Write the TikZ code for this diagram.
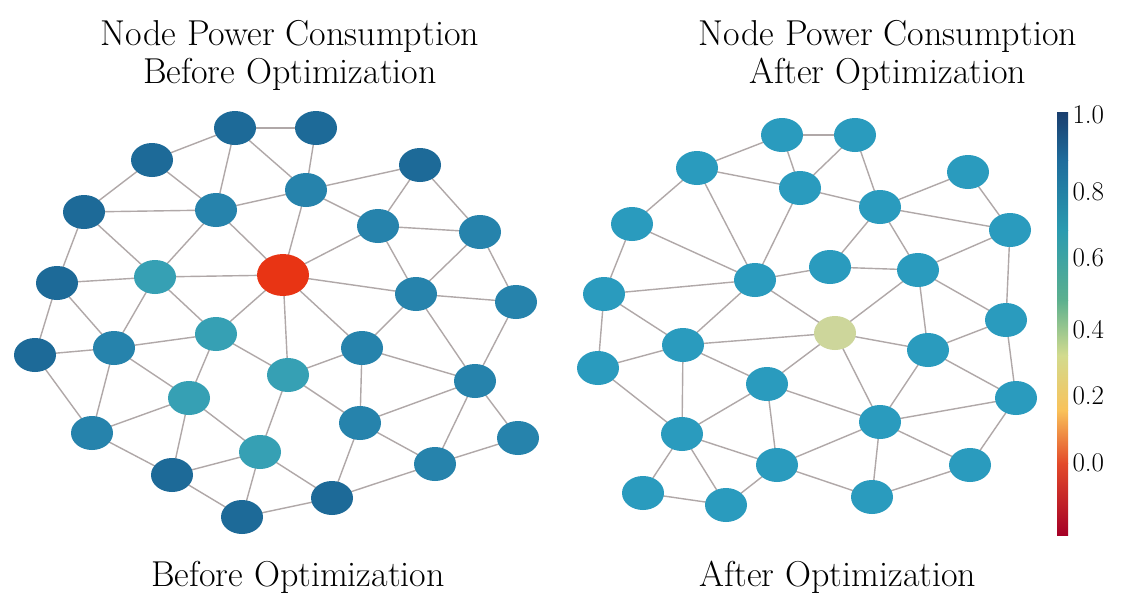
\documentclass[tikz,border=0pt]{standalone}
\usetikzlibrary{shapes.geometric}
\pgfdeclarelayer{bg}
\pgfsetlayers{bg,main}
\begin{document}
\begin{tikzpicture}[x=1pt,y=-1pt,
  nd/.style={ellipse,minimum width=42pt,minimum height=34pt,inner sep=0pt,draw=none},
  ttl/.style={font=\fontsize{36}{38}\selectfont,align=center},
  cb/.style={font=\fontsize{27}{29}\selectfont,anchor=west}]
\definecolor{dk}{HTML}{1D6A98}
\definecolor{md}{HTML}{2683AC}
\definecolor{lt}{HTML}{36A0B4}
\definecolor{rt}{HTML}{2A9BBE}
\definecolor{eg}{HTML}{B0A8A8}
\definecolor{red1}{HTML}{E83414}
\definecolor{ylw}{HTML}{CDD69B}
\tikzset{ed/.style={draw=eg,line width=1.4pt}}
\useasboundingbox (0,0) rectangle (1137,606);
\begin{pgfonlayer}{bg}\fill[white] (0,0) rectangle (1137,606);\end{pgfonlayer}
% titles
\node[ttl] (t1) at (290,55) {Node Power Consumption\\Before Optimization};
\node[ttl] (t2) at (888,55) {Node Power Consumption\\After Optimization};
\node[ttl] (b1) at (298,577) {Before Optimization};
\node[ttl] (b2) at (838,577) {After Optimization};
% left nodes
\foreach \n/\x/\y/\c in {A/235/128/dk,B/316/128/dk,C/152/160/dk,D/84/212/dk,E/216/210/md,F/306/190/md,G/420/165/dk,H/378/226/md,I/480/232/md,J/155/277/lt,L/57/283/dk,M/416/294/md,N/516/302/md,O/216/334/lt,P/114/348/md,Q/362/348/md,R/35/355/dk,S/288/375/lt,T/475/381/md,U/189/398/lt,V/92/433/md,W/360/423/md,X/518/438/md,Y/260/452/lt,Z/172/475/dk,AA/435/464/md,AB/332/498/dk,AC/242/517/dk}
  \node[nd,fill=\c] (\n) at (\x,\y) {};
\node[nd,fill=red1,minimum width=52pt,minimum height=42pt] (K) at (283,275) {};
% right nodes
\foreach \n/\x/\y in {a/782/135,b/855/135,c/697/168,d/800/188,e/968/172,f/880/207,g/632/224,h/1010/230,i/755/280,j/830/267,k/918/270,l/604/294,n/1006/320,o/683/345,p/928/350,q/598/368,r/767/384,s/1016/398,t/880/422,u/682/434,v/777/465,w/970/465,x/643/493,y/872/497,z/726/505}
  \node[nd,fill=rt] (\n) at (\x,\y) {};
\node[nd,fill=ylw] (m) at (835,333) {};
% edges
\begin{pgfonlayer}{bg}
\foreach \u/\v in {A/B,A/C,A/E,A/F,B/F,C/D,C/E,D/E,D/J,D/L,E/F,E/J,E/K,F/G,F/H,F/K,G/H,G/I,H/I,H/K,H/M,I/M,I/N,J/L,J/K,J/P,J/O,K/O,K/S,K/Q,K/M,L/P,L/R,M/N,M/Q,M/T,N/T,O/P,O/S,O/U,P/R,P/U,P/V,Q/S,Q/W,Q/T,R/V,S/Y,S/W,U/Y,U/V,U/Z,T/W,T/AA,T/X,V/Z,W/AA,W/AB,Y/Z,Y/AC,Y/AB,Z/AC,AC/AB,AB/AA,AA/X,
a/b,a/c,a/d,b/d,b/f,c/d,c/g,c/i,d/i,d/f,f/e,f/j,f/k,f/h,e/h,h/k,h/n,n/s,i/g,i/l,i/j,i/m,i/o,j/k,k/m,k/p,k/n,g/l,l/q,l/o,q/o,q/u,o/m,o/r,o/u,m/r,m/p,m/t,p/n,p/t,p/s,r/u,r/t,r/v,u/x,u/z,u/v,x/z,z/v,v/y,v/t,y/t,y/w,t/w,t/s,w/s}
  \draw[ed] (\u.center) -- (\v.center);
\end{pgfonlayer}
% colorbar
\definecolor{c0}{HTML}{A50026}
\definecolor{c1}{HTML}{E34A2A}
\definecolor{c2}{HTML}{F9C25A}
\definecolor{c3}{HTML}{D2DB8E}
\definecolor{c4}{HTML}{5CB08E}
\definecolor{c5}{HTML}{2A9BB0}
\definecolor{c6}{HTML}{1E6C9C}
\definecolor{c7}{HTML}{1A3E6E}
\shade[top color=c1,bottom color=c0] (1057,463) rectangle (1068,535);
\shade[top color=c2,bottom color=c1] (1057,410) rectangle (1068,463.5);
\shade[top color=c3,bottom color=c2] (1057,355) rectangle (1068,410.5);
\shade[top color=c4,bottom color=c3] (1057,300) rectangle (1068,355.5);
\shade[top color=c5,bottom color=c4] (1057,230) rectangle (1068,300.5);
\shade[top color=c6,bottom color=c5] (1057,160) rectangle (1068,230.5);
\shade[top color=c7,bottom color=c6] (1057,112) rectangle (1068,160.5);
\foreach \v/\y in {1.0/115,0.8/192,0.6/258,0.4/330,0.2/396,0.0/463}
  \node[cb] (l\y) at (1069,\y) {\v};
\end{tikzpicture}
\end{document}
